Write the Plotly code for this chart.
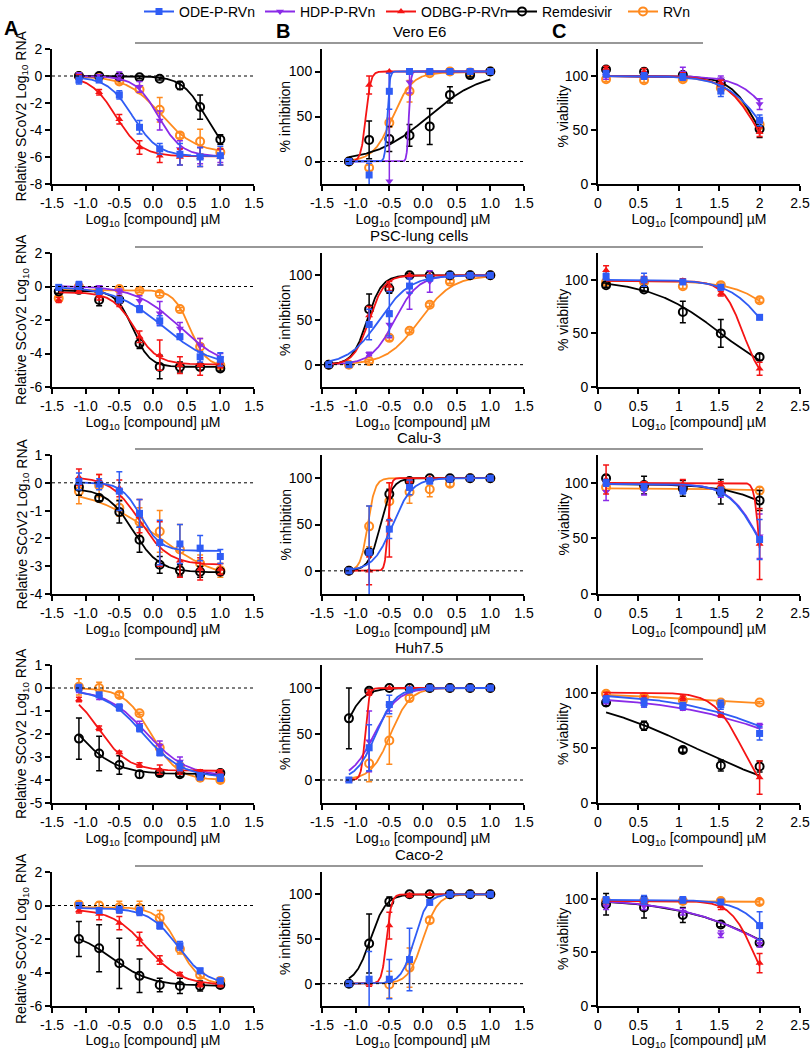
import numpy as np
import plotly.graph_objects as go

# doses (log10 µM) used in the antiviral and viability assays
X_AB = [-1.1, -0.8, -0.5, -0.2, 0.1, 0.4, 0.7, 1.0]
X_PSC = [-1.4, -1.1, -0.8, -0.5, -0.2, 0.1, 0.4, 0.7, 1.0]
X_VIAB = [0.1, 0.57, 1.05, 1.52, 2.0]

COMPOUNDS = ["ODE", "HDP", "ODBG", "Rem", "RVn"]
LABELS = {"ODE": "ODE-P-RVn", "HDP": "HDP-P-RVn", "ODBG": "ODBG-P-RVn",
          "Rem": "Remdesivir", "RVn": "RVn"}
CELL_LINES = ["Vero E6", "PSC-lung cells", "Calu-3", "Huh7.5", "Caco-2"]
Y_TITLES = ["Relative SCoV2 Log<sub>10</sub> RNA", "% inhibition", "% viability"]
X_TITLE = "Log<sub>10</sub> [compound] µM"

# tick labels
X_TICKS_AB = [-1.5, -1.0, -0.5, 0.0, 0.5, 1.0, 1.5]
X_TICKTEXT_AB = ["-1.5", "-1.0", "-0.5", "0.0", "0.5", "1.0", "1.5"]
X_TICKS_C = [0, 0.5, 1, 1.5, 2, 2.5]
X_TICKTEXT_C = ["0", "0.5", "1", "1.5", "2", "2.5"]
RNA_TICKS = [[2, 0, -2, -4, -6, -8], [2, 0, -2, -4, -6], [1, 0, -1, -2, -3, -4],
             [1, 0, -1, -2, -3, -4, -5], [2, 0, -2, -4, -6]]
PCT_TICKS = [0, 50, 100]

# fit parameters: (left asymptote, right asymptote, log midpoint, slope)
# ---------------- Vero E6 ----------------
vero_rna = {"ODE": [-0.3, -0.3, -1.4, -3.8, -5.4, -5.8, -6.0, -5.9],
            "HDP": [0.05, 0.0, 0.0, -0.8, -3.3, -5.4, -5.9, -5.9],
            "ODBG": [-0.1, -1.2, -3.2, -5.3, -5.9, -6.0, -6.0, -6.0],
            "Rem": [0.0, 0.0, -0.05, -0.1, -0.2, -0.7, -2.3, -4.7],
            "RVn": [0.0, -0.05, -0.4, -1.0, -2.5, -4.4, -4.85, -5.65]}
vero_rna_sd = {"ODE": [0.3, 0.15, 0.3, 0.5, 0.4, 0.8, 0.7, 0.7],
               "HDP": [0.2, 0.1, 0.3, 0.4, 0.7, 0.6, 0.6, 0.5],
               "ODBG": [0.2, 0.2, 0.35, 0.5, 0.5, 0.6, 0.7, 0.6],
               "Rem": [0.1, 0.1, 0.1, 0.1, 0.1, 0.3, 0.9, 0.35],
               "RVn": [0.1, 0.1, 0.2, 0.2, 0.9, 0.2, 0.9, 0.3]}
vero_rna_fit = {"ODE": (-0.05, -5.95, -0.3, 2.3), "HDP": (0, -5.95, 0.08, 2.5),
                "ODBG": (0, -5.95, -0.55, 2.3), "Rem": (0, -6.0, 0.78, 2.5),
                "RVn": (0, -5.7, 0.12, 1.7)}

vero_inh = {"ODE": [0, -15, 78, 100, 100, 100, 100, 100],
            "HDP": [0, None, -22, 88, 100, 100, 100, 100],
            "ODBG": [0, 85, 100, 100, 100, 100, 100, 100],
            "Rem": [0, 24, 25, 29, 39, 74, 96, 100],
            "RVn": [0, -7, 43, 78, 98, 100, 99, 100]}
vero_inh_sd = {"ODE": [0, 13, 20, 0, 0, 0, 0, 0],
               "HDP": [0, 0, 120, 12, 0, 0, 0, 0],
               "ODBG": [0, 10, 0, 0, 0, 0, 0, 0],
               "Rem": [0, 21, 14, 12, 20, 9, 2, 0],
               "RVn": [0, 3, 5, 12, 2, 0, 0, 0]}
vero_inh_fit = {"ODE": (0, 100, -0.53, 25), "HDP": (0, 100, -0.21, 30),
                "ODBG": (0, 100, -0.85, 12), "Rem": (0, 100, 0.08, 1.1),
                "RVn": (0, 99, -0.45, 3)}

vero_via = {"ODE": [102, 100, 99, 86, 59], "HDP": [100, 101, 103, 97, 74],
            "ODBG": [107, 104, 100, 93, 48], "Rem": [106, 104, 101, 94, 51],
            "RVn": [97, 96, 97, 89, 55]}
vero_via_sd = {"ODE": [3, 3, 3, 5, 5], "HDP": [3, 3, 5, 3, 5],
               "ODBG": [2, 3, 3, 3, 4], "Rem": [2, 3, 3, 3, 8],
               "RVn": [2, 2, 2, 3, 4]}
vero_via_fit = {"ODE": (100, 0, 2.08, 1.8), "HDP": (100, 0, 2.25, 2),
                "ODBG": (100, 0, 1.98, 2.2), "Rem": (100, 0, 2.0, 2.5),
                "RVn": (100, 0, 2.02, 2)}

# ---------------- PSC-lung cells ----------------
psc_rna = {"ODE": [-0.05, 0.1, -0.3, -0.8, -1.35, -2.05, -3.0, -4.2, -4.35],
           "HDP": [None, 0.05, -0.05, -0.3, -0.85, -1.6, -2.5, -3.5, -4.3],
           "ODBG": [-0.8, -0.25, -0.6, -0.9, -3.0, -4.1, -4.7, -4.7, -4.7],
           "Rem": [-0.3, -0.2, -0.8, -0.8, -3.4, -4.8, -4.8, -4.8, -4.9],
           "RVn": [-0.7, 0.0, -0.3, -0.15, -0.25, -0.45, -1.35, -3.6, -4.7]}
psc_rna_sd = {"ODE": [0.05, 0.2, 0.15, 0.15, 0.2, 0.3, 0.15, 0.3, 0.4],
              "HDP": [0, 0.1, 0.1, 0.15, 0.3, 0.7, 0.35, 0.4, 0.3],
              "ODBG": [0.15, 0.15, 0.2, 0.3, 0.35, 0.9, 0.5, 0.6, 0.15],
              "Rem": [0.1, 0.1, 0.35, 0.2, 0.3, 0.7, 0.3, 0.2, 0.15],
              "RVn": [0.1, 0.1, 0.1, 0.1, 0.1, 0.1, 0.1, 0.5, 0.2]}
psc_rna_fit = {"ODE": (0, -4.8, 0.15, 1.2), "HDP": (0.05, -4.9, 0.4, 1.3),
               "ODBG": (-0.35, -4.65, -0.27, 2.6), "Rem": (-0.25, -4.8, -0.3, 3.5),
               "RVn": (-0.2, -4.8, 0.55, 3.5)}

psc_inh = {"ODE": [0, 0, 45, 57, 88, 97, 100, 100, 100],
           "HDP": [None, None, 12, 45, 80, 93, 99, 100, 100],
           "ODBG": [0, None, 55, 88, 100, 100, 100, 100, 100],
           "Rem": [0, None, 62, 85, 100, 100, 100, 100, 100],
           "RVn": [0, 0, 4, 30, 38, 67, 93, 100, 100]}
psc_inh_sd = {"ODE": [0, 0, 17, 25, 8, 3, 0, 0, 0],
              "HDP": [0, 0, 2, 15, 18, 12, 0, 0, 0],
              "ODBG": [0, 0, 10, 5, 0, 0, 0, 0, 0],
              "Rem": [0, 0, 17, 5, 2, 0, 0, 0, 0],
              "RVn": [0, 0, 2, 3, 2, 2, 2, 0, 0]}
psc_inh_fit = {"ODE": (0, 100, -0.65, 1.9), "HDP": (0, 100, -0.42, 2.5),
               "ODBG": (0, 100, -0.8, 3.8), "Rem": (0, 100, -0.83, 4.0),
               "RVn": (0, 100, -0.05, 1.8)}

psc_via = {"ODE": [103, 100, 98, 93, 65], "ODBG": [109, 100, 99, 87, 17],
           "Rem": [95, 91, 70, 50, 28], "RVn": [98, 98, 94, 95, 81]}
psc_via_sd = {"ODE": [3, 6, 2, 2, 2], "ODBG": [4, 3, 2, 2, 6],
              "Rem": [2, 2, 10, 13, 3], "RVn": [2, 2, 2, 2, 2]}
psc_via_fit = {"ODE": (100, 0, 2.14, 1.8), "ODBG": (99, 0, 1.8, 3.5),
               "Rem": (100, 0, 1.52, 1.0), "RVn": (99, 0, 2.42, 1.5)}

# ---------------- Calu-3 ----------------
calu_rna = {"ODE": [0.05, -0.05, -0.3, -1.1, -2.15, -2.2, -2.35, -2.65],
            "ODBG": [0.2, 0.1, -0.2, -1.2, -2.2, -2.8, -3.1, -3.1],
            "Rem": [-0.15, -0.55, -1.05, -2.05, -2.95, -3.15, -3.2, -3.2],
            "RVn": [-0.3, -0.1, -0.9, -1.4, -1.75, -2.4, -2.9, -3.15]}
calu_rna_sd = {"ODE": [0.3, 0.2, 0.7, 0.5, 0.8, 0.7, 0.45, 0.25],
               "ODBG": [0.3, 0.2, 0.3, 0.6, 0.8, 0.6, 0.4, 0.2],
               "Rem": [0.3, 0.1, 0.4, 0.45, 0.3, 0.2, 0.2, 0.1],
               "RVn": [0.45, 0.4, 0.3, 0.5, 0.75, 0.9, 0.3, 0.25]}
calu_rna_fit = {"ODE": (0.02, -2.45, -0.18, 3.0), "ODBG": (0.22, -2.95, -0.2, 2.0),
                "Rem": (-0.2, -3.22, -0.3, 2.2), "RVn": (-0.2, -3.6, 0.05, 0.9)}

calu_inh = {"ODE": [0, 20, 45, 90, 97, 99, 100, 100],
            "ODBG": [0, 0, 55, 97, 100, 100, 100, 100],
            "Rem": [0, 20, 83, 97, 100, 100, 100, 100],
            "RVn": [0, 48, 75, 85, 88, 94, 100, 100]}
calu_inh_sd = {"ODE": [0, 50, 10, 8, 3, 0, 0, 0],
               "ODBG": [0, 15, 40, 2, 0, 0, 0, 0],
               "Rem": [0, 0, 5, 3, 0, 0, 0, 0],
               "RVn": [0, 22, 20, 12, 8, 3, 0, 0]}
calu_inh_fit = {"ODE": (0, 100, -0.45, 3), "ODBG": (0, 100, -0.52, 20),
                "Rem": (0, 100, -0.63, 5), "RVn": (0, 100, -0.82, 8)}

calu_via = {"ODE": [100, 96, 93, 92, 49], "HDP": [92, 93, 95, 90, 52],
            "ODBG": [103, 98, 99, 98, 45], "Rem": [104, 98, 95, 92, 84],
            "RVn": [96, 96, 95, 94, 93]}
calu_via_sd = {"ODE": [3, 3, 3, 4, 18], "HDP": [8, 4, 3, 3, 20],
               "ODBG": [13, 3, 4, 3, 32], "Rem": [3, 8, 7, 11, 9],
               "RVn": [3, 3, 3, 3, 3]}
calu_via_fit = {"ODE": (99, 0, 1.99, 2.3), "HDP": (99, 0, 2.0, 2.3),
                "ODBG": (100, 0, 1.99, 15), "Rem": (99, 0, 2.6, 1.2),
                "RVn": (95, 93, 1.6, 1.5)}

# ---------------- Huh7.5 ----------------
huh_rna = {"ODE": [0.0, -0.3, -0.85, -1.75, -2.8, -3.4, -3.85, -3.9],
           "HDP": [-0.1, -0.4, -0.85, -1.6, -2.5, -3.2, -3.7, -3.8],
           "ODBG": [-0.5, -1.75, -2.8, -3.35, -3.55, -3.6, -3.65, -3.65],
           "Rem": [-2.2, -2.85, -3.35, -3.75, -3.7, -3.75, -3.75, -3.7],
           "RVn": [0.05, 0.0, -0.3, -1.1, -2.6, -3.4, -3.9, -4.0]}
huh_rna_sd = {"ODE": [0.15, 0.1, 0.15, 0.15, 0.15, 0.2, 0.15, 0.15],
              "HDP": [0.1, 0.1, 0.1, 0.15, 0.2, 0.2, 0.1, 0.1],
              "ODBG": [0.1, 0.1, 0.05, 0.1, 0.2, 0.15, 0.1, 0.1],
              "Rem": [0.9, 0.75, 0.4, 0.15, 0.1, 0.1, 0.1, 0.05],
              "RVn": [0.35, 0.25, 0.1, 0.05, 0.1, 0.1, 0.15, 0.1]}
huh_rna_fit = {"ODE": (-0.05, -3.9, -0.15, 1.5), "HDP": (-0.05, -3.85, -0.1, 1.45),
               "ODBG": (0, -3.6, -0.8, 2.0), "Rem": (0, -3.75, -1.15, 1.5),
               "RVn": (0, -4.0, -0.03, 2.2)}

huh_inh = {"ODE": [0, 35, 82, 98, 100, 100, 100, 100],
           "HDP": [None, 42, 80, 98, 100, 100, 100, 100],
           "ODBG": [0, 95, 100, 100, 100, 100, 100, 100],
           "Rem": [67, 97, 100, 100, 100, 100, 100, 100],
           "RVn": [None, 18, 43, 89, 100, 100, 100, 100]}
huh_inh_sd = {"ODE": [0, 25, 10, 2, 0, 0, 0, 0],
              "HDP": [0, 33, 5, 2, 0, 0, 0, 0],
              "ODBG": [0, 3, 0, 0, 0, 0, 0, 0],
              "Rem": [33, 2, 0, 0, 0, 0, 0, 0],
              "RVn": [0, 20, 26, 3, 0, 0, 0, 0]}
huh_inh_fit = {"ODE": (0, 100, -0.7, 3), "HDP": (0, 100, -0.72, 2.5),
               "ODBG": (0, 100, -0.86, 15), "Rem": (0, 100, -1.2, 3),
               "RVn": (0, 100, -0.48, 3)}

huh_via = {"ODE": [94, 91, 88, 89, 63], "HDP": [92, 89, 86, 80, 70],
           "ODBG": [98, 95, 95, 80, 23], "Rem": [91, 70, 48, 34, 33],
           "RVn": [99, 96, 93, 91, 91]}
huh_via_sd = {"ODE": [3, 4, 3, 4, 6], "HDP": [2, 2, 2, 2, 2],
              "ODBG": [2, 2, 2, 2, 15], "Rem": [3, 4, 2, 5, 5],
              "RVn": [2, 2, 1, 1, 1]}
huh_via_fit = {"ODE": (100, 0, 2.6, 0.6), "HDP": (97, 0, 2.65, 0.55),
               "ODBG": (100, 0, 1.78, 2.5), "Rem": (100, 0, 1.2, 0.6),
               "RVn": (99.5, 88, 1.2, 0.7)}

# ---------------- Caco-2 ----------------
caco_rna = {"ODE": [0.0, -0.3, -0.25, -0.35, -1.2, -2.4, -3.9, -4.5],
            "ODBG": [-0.3, -0.5, -1.05, -2.0, -3.25, -4.1, -4.75, -4.75],
            "Rem": [-2.0, -2.55, -3.45, -4.2, -4.75, -4.8, -4.8, -4.75],
            "RVn": [0.05, 0.0, -0.1, -0.15, -0.75, -2.6, -4.15, -4.5]}
caco_rna_sd = {"ODE": [0.15, 0.15, 0.2, 0.25, 0.2, 0.25, 0.15, 0.15],
               "ODBG": [0.15, 0.35, 0.4, 0.4, 0.25, 0.1, 0.1, 0.1],
               "Rem": [1.05, 1.4, 1.5, 1.0, 0.4, 0.45, 0.3, 0.1],
               "RVn": [0.2, 0.2, 0.35, 0.4, 0.45, 0.3, 0.15, 0.15]}
caco_rna_fit = {"ODE": (-0.15, -4.75, 0.37, 2.0), "ODBG": (-0.2, -4.75, -0.1, 1.7),
                "Rem": (-1.5, -4.8, -0.605, 1.51), "RVn": (-0.1, -4.75, 0.38, 2.7)}

caco_inh = {"ODE": [0, 5, 5, 27, 91, 100, 100, 100],
            "ODBG": [0, 0, 65, 99, 100, 100, 100, 100],
            "Rem": [0, 45, 92, 100, 100, 100, 100, 100],
            "RVn": [None, None, -1, 18, 71, 100, 100, 100]}
caco_inh_sd = {"ODE": [0, 31, 22, 35, 3, 0, 0, 0],
               "ODBG": [0, 3, 15, 2, 0, 0, 0, 0],
               "Rem": [0, 33, 5, 1, 0, 0, 0, 0],
               "RVn": [0, 0, 15, 22, 3, 0, 0, 0]}
caco_inh_fit = {"ODE": (0, 100, -0.13, 4.5), "ODBG": (0, 100, -0.54, 12),
                "Rem": (0, 100, -0.78, 3.8), "RVn": (0, 100, 0.0, 4)}

caco_via = {"ODE": [99, 99, 99, 97, 75], "HDP": [93, 93, 88, 67, 58],
            "ODBG": [98, 98, 99, 93, 40], "Rem": [95, 92, 85, 76, 59],
            "RVn": [98, 98, 98, 98, 97]}
caco_via_sd = {"ODE": [3, 4, 3, 2, 13], "HDP": [3, 3, 3, 3, 3],
               "ODBG": [2, 2, 2, 3, 9], "Rem": [10, 10, 7, 2, 3],
               "RVn": [2, 2, 2, 2, 2]}
caco_via_fit = {"ODE": (99, 0, 2.25, 2), "HDP": (100, 0, 2.28, 0.72),
                "ODBG": (98, 0, 1.93, 3), "Rem": (100, 0, 2.3, 0.7),
                "RVn": (98, 97, 1.5, 1)}

# row -> [(x, values, sd, fit) for panels A, B, C]
ROWS = [
    [(X_AB, vero_rna, vero_rna_sd, vero_rna_fit), (X_AB, vero_inh, vero_inh_sd, vero_inh_fit),
     (X_VIAB, vero_via, vero_via_sd, vero_via_fit)],
    [(X_PSC, psc_rna, psc_rna_sd, psc_rna_fit), (X_PSC, psc_inh, psc_inh_sd, psc_inh_fit),
     (X_VIAB, psc_via, psc_via_sd, psc_via_fit)],
    [(X_AB, calu_rna, calu_rna_sd, calu_rna_fit), (X_AB, calu_inh, calu_inh_sd, calu_inh_fit),
     (X_VIAB, calu_via, calu_via_sd, calu_via_fit)],
    [(X_AB, huh_rna, huh_rna_sd, huh_rna_fit), (X_AB, huh_inh, huh_inh_sd, huh_inh_fit),
     (X_VIAB, huh_via, huh_via_sd, huh_via_fit)],
    [(X_AB, caco_rna, caco_rna_sd, caco_rna_fit), (X_AB, caco_inh, caco_inh_sd, caco_inh_fit),
     (X_VIAB, caco_via, caco_via_sd, caco_via_fit)],
]

# styling
COLORS = {"ODE": "#2f5cf5", "HDP": "#8a2be8", "ODBG": "#f51414", "Rem": "#000000", "RVn": "#ff8a1e"}
SYMBOLS = {"ODE": "square", "HDP": "triangle-down", "ODBG": "triangle-up",
           "Rem": "circle-open", "RVn": "circle-open"}
DRAW_ORDER = ["RVn", "Rem", "HDP", "ODBG", "ODE"]
FONT = "Liberation Sans, Arial, sans-serif"
W, H = 810, 1050
COL_PX = [(52, 254), (322, 524), (598, 800)]
YTITLE_X = [22, 285, 563]
ROW_PX = [(49, 184), (253, 387), (455, 594), (665, 803), (872, 1006)]
RNA_RANGES = [(-8, 2), (-6, 2), (-4, 1), (-5, 1), (-6, 2)]


def logistic(x, left, right, mid, slope):
    # 4-parameter dose response fit, as drawn in the source figure
    return left + (right - left) / (1 + 10 ** ((mid - x) * slope))


fig = go.Figure()
layout = {}
shapes = []
annotations = []

axis_common = dict(showline=True, linecolor="black", linewidth=2, ticks="outside",
                   ticklen=5, tickwidth=1.5, tickcolor="black", showgrid=False,
                   zeroline=False, tickfont=dict(size=14, color="black", family=FONT),
                   tickmode="array", automargin=False)
title_font = dict(size=14, family=FONT, color="black")

for r, row in enumerate(ROWS):
    top, bot = ROW_PX[r]
    for c, (xs, vals, sds, fits) in enumerate(row):
        idx = r * 3 + c + 1
        xname = "x" if idx == 1 else f"x{idx}"
        yname = "y" if idx == 1 else f"y{idx}"
        x0, x1 = COL_PX[c]

        for key in DRAW_ORDER:
            if key not in vals:
                continue
            col = COLORS[key]
            pts = [(x, y, s) for x, y, s in zip(xs, vals[key], sds[key]) if y is not None]
            xx = np.linspace(xs[0], xs[-1], 400)
            fig.add_trace(go.Scatter(x=xx, y=logistic(xx, *fits[key]), mode="lines",
                                     line=dict(color=col, width=1.8), xaxis=xname, yaxis=yname,
                                     showlegend=False, hoverinfo="skip"))
            open_sym = SYMBOLS[key].endswith("open")
            fig.add_trace(go.Scatter(
                x=[p[0] for p in pts], y=[p[1] for p in pts], mode="markers",
                marker=dict(symbol=SYMBOLS[key], color=col, size=8 if open_sym else 7,
                            line=dict(width=2 if open_sym else 0, color=col)),
                error_y=dict(type="data", array=[p[2] for p in pts], color=col,
                             thickness=1.5, width=3),
                xaxis=xname, yaxis=yname, showlegend=False, name=LABELS[key]))

        xax = dict(axis_common, domain=[x0 / W, x1 / W], anchor=yname,
                   title=dict(text=X_TITLE, font=title_font, standoff=4))
        yax = dict(axis_common, domain=[1 - bot / H, 1 - top / H], anchor=xname)
        if c < 2:
            xax.update(range=[-1.5, 1.5], tickvals=X_TICKS_AB, ticktext=X_TICKTEXT_AB)
        else:
            xax.update(range=[0, 2.5], tickvals=X_TICKS_C, ticktext=X_TICKTEXT_C)
        if c == 0:
            ticks = RNA_TICKS[r]
            yax.update(range=list(RNA_RANGES[r]), tickvals=ticks, ticktext=[str(t) for t in ticks])
        elif c == 1:
            yax.update(range=[-25, 125], tickvals=PCT_TICKS, ticktext=[str(t) for t in PCT_TICKS])
        else:
            yax.update(range=[0, 125], tickvals=PCT_TICKS, ticktext=[str(t) for t in PCT_TICKS])
        layout["xaxis" if idx == 1 else f"xaxis{idx}"] = xax
        layout["yaxis" if idx == 1 else f"yaxis{idx}"] = yax

        # y-axis title placed next to the tick labels
        annotations.append(dict(text=Y_TITLES[c], xref="paper", yref="paper",
                                x=YTITLE_X[c] / W, y=1 - (top + bot) / 2 / H, textangle=-90,
                                xanchor="center", yanchor="middle", showarrow=False,
                                font=title_font))

        if c < 2:
            shapes.append(dict(type="line", xref=f"{xname} domain", x0=0, x1=1, yref=yname,
                               y0=0, y1=0, line=dict(color="black", width=1, dash="dot")))

    # cell line title and separator
    line_y = top - 6
    shapes.append(dict(type="line", xref="paper", yref="paper", x0=135 / W, x1=703 / W,
                       y0=1 - line_y / H, y1=1 - line_y / H, line=dict(color="#333333", width=1.2)))
    annotations.append(dict(text=CELL_LINES[r], xref="paper", yref="paper", x=419 / W,
                            y=1 - (line_y - 1) / H, xanchor="center", yanchor="bottom",
                            showarrow=False, font=dict(size=15, family=FONT, color="black")))

for letter, px, py in [("A", 11, 28), ("B", 283, 31), ("C", 559, 31)]:
    annotations.append(dict(text=f"<b>{letter}</b>", xref="paper", yref="paper", x=px / W,
                            y=1 - py / H, xanchor="center", yanchor="middle", showarrow=False,
                            font=dict(size=20, family=FONT, color="black")))

# legend entries
for key in COMPOUNDS:
    open_sym = SYMBOLS[key].endswith("open")
    fig.add_trace(go.Scatter(x=[None], y=[None], mode="lines+markers", name=LABELS[key],
                             line=dict(color=COLORS[key], width=2),
                             marker=dict(symbol=SYMBOLS[key], color=COLORS[key],
                                         size=8 if open_sym else 7,
                                         line=dict(width=2 if open_sym else 0, color=COLORS[key])),
                             showlegend=True))

fig.update_layout(
    **layout,
    width=W, height=H, autosize=False,
    margin=dict(l=0, r=0, t=0, b=0, autoexpand=False),
    paper_bgcolor="white", plot_bgcolor="white",
    font=dict(family=FONT, size=14, color="black"),
    shapes=shapes, annotations=annotations,
    legend=dict(orientation="h", xref="paper", yref="paper", x=139 / W, y=1.004,
                xanchor="left", yanchor="top",
                font=dict(size=14, family=FONT, color="black"), itemwidth=30,
                entrywidth=76, bgcolor="rgba(0,0,0,0)", tracegroupgap=0),
)

fig.write_html("out.html", config={"displayModeBar": False},
               post_script="document.body.style.margin='0';")
